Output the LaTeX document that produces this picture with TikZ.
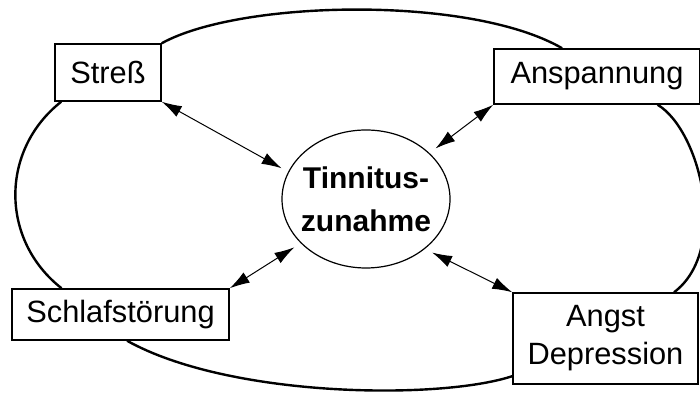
\documentclass[tikz,border=0pt]{standalone}
\usepackage{fontspec}
\setmainfont{Liberation Sans}
\usetikzlibrary{arrows.meta,shapes.geometric}

\begin{document}
\begin{tikzpicture}[x=0.5pt, y=-0.5pt,
    box/.style={draw, line width=0.75pt, inner sep=0pt, align=center,
                font=\fontsize{15.4}{19}\selectfont},
    core/.style={draw, ellipse, line width=0.6pt, inner ysep=0pt, inner xsep=-8pt,
                 outer sep=4pt, minimum width=84pt, minimum height=69pt, align=center,
                 font=\fontsize{15}{21.5}\selectfont\bfseries},
    conn/.style={{Latex[length=10pt,width=6pt]}-{Latex[length=10pt,width=6pt]}, line width=0.5pt},
    ring/.style={line width=1.2pt}]

\useasboundingbox (0,0) rectangle (700,394);

\node [core] (tin) at (366,199) {Tinnitus-\\zunahme};

\node [box, minimum width=53pt, minimum height=28.5pt] (stress) at (108,72.5) {Streß};
\node [box, minimum width=103pt, minimum height=27.5pt] (ansp) at (597,76.5) {Anspannung};
\node [box, minimum width=108.5pt, minimum height=25.5pt] (schlaf) at (120.5,314.5) {Schlafstörung};
\node [box, minimum width=92.5pt, minimum height=45.5pt] (angst) at (605.5,338.5) {Angst\\Depression};

% big loop round the boxes
\draw [ring] (stress.north east) .. controls (240,0) and (470,-5) .. (ansp.141);
\draw [ring] (ansp.-25) .. controls (700,130) and (730,250) .. (angst.34);
\draw [ring] (angst.202) .. controls (440,400) and (230,398) .. (schlaf.-76);
\draw [ring] (schlaf.156) .. controls (0,240) and (0,150) .. (stress.212);

% arrows to the middle
\draw [conn] (stress.south east) -- (tin.160);
\draw [conn] (ansp.south west) -- (tin.36);
\draw [conn] (schlaf.north east) -- (tin.214);
\draw [conn] (angst.north west) -- (tin.-39);

\end{tikzpicture}
\end{document}
